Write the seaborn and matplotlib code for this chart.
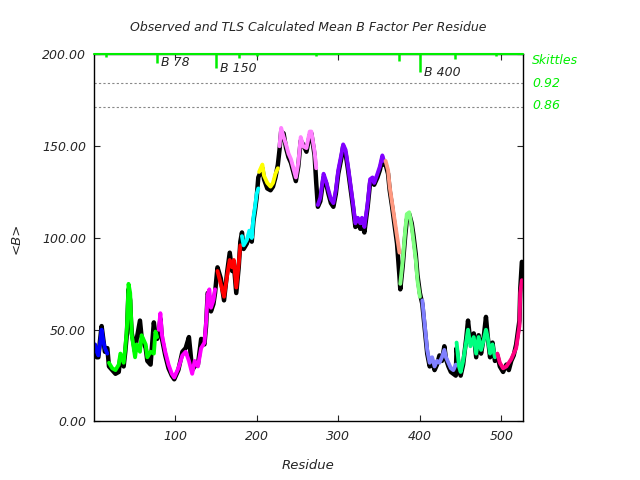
import numpy as np
import pandas as pd
import matplotlib
matplotlib.use("Agg")
import matplotlib.pyplot as plt
import seaborn as sns

# ---- data ----
residue = [2, 4, 6, 8, 10, 12, 14, 17,
           19, 23, 27, 31, 33, 37, 39, 41, 43, 45, 46, 47, 51, 53, 57, 59, 64, 66, 70, 74, 76, 78,
           80, 82, 84, 88, 92, 96, 99, 104, 109, 113, 117, 121, 124, 128, 132, 136, 138, 140, 142, 144, 147, 149,
           152, 156, 160, 164, 167, 170, 172, 175, 178, 180,
           182, 184, 188, 191, 194, 196, 198, 200, 202,
           203, 204, 207, 209, 213, 217, 220, 223, 226,
           228, 230, 233, 236, 239, 242, 245, 248, 251, 254, 257, 261, 265, 267, 271, 273,
           275, 278, 282, 285, 288, 291, 294, 297, 300, 304, 306, 309, 312, 315, 318, 321, 324, 327, 329, 332,
           336, 339, 342, 344, 348, 351, 354, 356,
           358, 361, 363, 366, 369, 372, 375,
           376, 379, 382, 384, 387, 390, 392, 395, 397, 400,
           403, 405, 407, 409, 412, 415, 418, 421, 424, 427, 430, 432, 435, 438, 441, 444,
           445, 448, 450, 453, 457, 459, 462, 466, 469, 472, 475, 478, 481, 483, 486, 489, 492,
           495, 498, 502, 506, 509, 512, 515, 518, 522, 523, 525]

tls_b = [42, 38, 36, 42, 50, 44, 40, 37,
         32, 29, 28, 31, 37, 32, 40, 51, 75, 70, 58, 47, 35, 42, 38, 47, 42, 35, 38, 37, 49, 46,
         50, 59, 47, 38, 31, 26, 24, 29, 36, 38, 33, 26, 33, 30, 40, 43, 54, 69, 72, 62, 66, 72,
         82, 75, 68, 80, 88, 84, 88, 73, 86, 96,
         101, 96, 99, 104, 100, 111, 117, 124, 127,
         136, 137, 140, 134, 130, 128, 130, 135, 138,
         150, 160, 155, 151, 146, 143, 138, 133, 141, 155, 150, 149, 158, 158, 147, 138,
         118, 122, 135, 131, 126, 121, 119, 126, 137, 146, 151, 148, 139, 129, 119, 108, 111, 108, 111, 106,
         119, 132, 133, 130, 135, 139, 145, 142,
         142, 137, 128, 119, 110, 101, 92,
         75, 88, 104, 113, 114, 106, 99, 88, 77, 68,
         66, 57, 48, 39, 32, 35, 30, 33, 32, 35, 39, 35, 32, 29, 28, 31,
         43, 30, 27, 33, 44, 50, 41, 46, 37, 46, 39, 44, 50, 46, 37, 42, 35,
         37, 32, 29, 30, 32, 34, 37, 40, 52, 70, 77]

observed_b = [40, 35, 35, 44, 52, 45, 38, 40,
              30, 28, 26, 27, 35, 30, 38, 48, 72, 66, 55, 48, 38, 45, 55, 46, 40, 33, 31, 54, 47, 45,
              48, 56, 45, 36, 29, 25, 23, 28, 38, 40, 46, 28, 30, 31, 45, 42, 52, 70, 68, 60, 64, 70,
              84, 78, 66, 82, 92, 82, 86, 70, 84, 98,
              103, 94, 97, 102, 98, 109, 115, 122, 133,
              134, 135, 138, 132, 127, 126, 128, 133, 140,
              148, 158, 157, 149, 144, 141, 136, 131, 139, 153, 151, 147, 156, 157, 145, 130,
              117, 120, 133, 130, 124, 119, 117, 124, 135, 144, 150, 146, 137, 127, 117, 106, 109, 105, 109, 103,
              117, 130, 131, 129, 133, 137, 143, 140,
              140, 135, 126, 117, 107, 97, 79,
              72, 85, 101, 110, 113, 108, 102, 91, 80, 70,
              64, 55, 46, 37, 30, 33, 28, 31, 36, 33, 41, 34, 30, 27, 26, 25,
              40, 28, 25, 31, 46, 55, 43, 48, 35, 47, 37, 45, 57, 47, 35, 43, 33,
              36, 30, 27, 31, 28, 33, 36, 42, 55, 72, 87]

segment_start = [2, 19, 80, 152, 182, 203, 228, 275, 358, 376, 403, 445, 495]
segment_colors = ["#0000ff", "#00ff00", "#ff00ff", "#ff0000", "#00ffff", "#ffff00",
                  "#ff80ff", "#8000ff", "#ff9980", "#80ff80", "#8080ff", "#00ff80", "#ff0080"]

skittle_res = [15, 78, 150, 178, 200, 273, 374, 400, 443, 493]
skittle_low = [198.8, 195.2, 192.5, 198.3, 199.0, 199.0, 196.6, 190.3, 197.4, 199.0]
skittle_labels = ["B 78", "B 150", "B 400"]
skittle_label_res = [83, 155, 405]
skittle_label_y = [195.9, 192.6, 190.4]

threshold_y = [184.5, 171.6]
right_labels = ["Skittles", "0.92", "0.86"]
right_label_y = [196.5, 184.0, 172.0]

x_ticks = [100, 200, 300, 400, 500]
y_ticks = [0, 50, 100, 150, 200]

# ---- build table ----
df = pd.DataFrame({"residue": residue, "observed": observed_b, "tls": tls_b})
df["segment"] = np.searchsorted(segment_start, df["residue"], side="right") - 1
palette = {i: c for i, c in enumerate(segment_colors)}

sns.set_style("ticks")
plt.rcParams["font.family"] = ["DejaVu Sans"]
plt.rcParams["font.style"] = "italic"

fig = plt.figure(figsize=(6.4, 4.8), dpi=100)
ax = fig.add_axes([0.1473, 0.1219, 0.6694, 0.7646])

sns.lineplot(data=df, x="residue", y="observed", color="black", lw=3.2,
             estimator=None, sort=False, ax=ax)
sns.lineplot(data=df, x="residue", y="tls", hue="segment", palette=palette, lw=2.8,
             estimator=None, sort=False, legend=False, ax=ax)

green = "#00ee00"
for yv in threshold_y:
    ax.axhline(yv, color="#888888", lw=0.8, ls=(0, (2, 2)))
ax.axhline(200, color=green, lw=1.5, clip_on=False, zorder=5)
ax.vlines(skittle_res, skittle_low, 200, color=green, lw=1.8, zorder=5)
for lab, xr, yv in zip(skittle_labels, skittle_label_res, skittle_label_y):
    ax.text(xr, yv, lab, fontsize=9, va="center", ha="left", style="italic")

trans = matplotlib.transforms.blended_transform_factory(ax.transAxes, ax.transData)
for lab, yv in zip(right_labels, right_label_y):
    ax.text(1.022, yv, lab, transform=trans, color=green, fontsize=9,
            va="center", ha="left", style="italic", clip_on=False)

ax.set_xlim(1, 526)
ax.set_ylim(0, 200)
ax.set_xticks(x_ticks)
ax.set_xticklabels([str(t) for t in x_ticks], fontsize=9, style="italic")
ax.set_yticks(y_ticks)
ax.set_yticklabels([f"{t:.2f}" for t in y_ticks], fontsize=9, style="italic")
ax.tick_params(direction="in", length=4, width=0.8, top=True, right=True,
               labeltop=False, labelright=False, pad=6)
for s in ax.spines.values():
    s.set_linewidth(1.0)
    s.set_color("black")

ax.set_xlabel("Residue", fontsize=9.5, style="italic", labelpad=12)
ax.set_ylabel("<B>", fontsize=9.5, style="italic", labelpad=14)
ax.set_title("Observed and TLS Calculated Mean B Factor Per Residue",
             fontsize=9, style="italic", pad=17)

fig.savefig("out.png", dpi=100)
